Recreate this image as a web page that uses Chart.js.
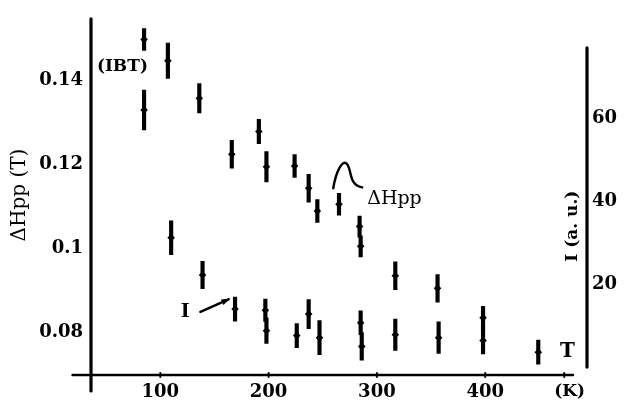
<!DOCTYPE html>
<html><head><meta charset="utf-8">
<script src="https://cdn.jsdelivr.net/npm/chart.js@4"></script>
<style>html,body{margin:0;padding:0;background:#fff}</style>
</head><body>
<canvas id="c" width="624" height="406"></canvas>
<script>
// ΔHpp series (left axis, T)
const hT   = [85, 107, 136, 166, 191, 198, 224, 237, 245, 265, 284, 285, 317, 356, 398];
const hVal = [0.1497, 0.1446, 0.1357, 0.1224, 0.1278, 0.1194, 0.1196, 0.1143, 0.1089, 0.1105, 0.1052, 0.1005, 0.0935, 0.0905, 0.0835];
const hErr = [0.0026, 0.0042, 0.0035, 0.0033, 0.0029, 0.0036, 0.0027, 0.0033, 0.0027, 0.0026, 0.0025, 0.0025, 0.0033, 0.0033, 0.0027];
// I series (right axis, a.u.)
const iT   = [85, 110, 139, 169, 197, 198, 226, 237, 247, 285, 286, 317, 357, 398, 449];
const iVal = [62.0, 31.2, 22.2, 14.0, 13.7, 8.8, 7.6, 12.8, 7.1, 10.7, 5.0, 7.8, 7.1, 6.4, 3.6];
const iErr = [4.8, 4.1, 3.3, 2.9, 2.7, 3.1, 2.9, 3.5, 4.1, 2.9, 3.3, 3.8, 3.8, 3.2, 2.9];
// ticks
const xTicks = [100, 200, 300, 400];
const xTickLabels = ['100', '200', '300', '400'];
const hTicks = [0.08, 0.1, 0.12, 0.14];
const hTickLabels = ['0.08', '0.1', '0.12', '0.14'];
const iTicks = [20, 40, 60];
const iTickLabels = ['20', '40', '60'];

const SERIF = '"DejaVu Serif", "Liberation Serif", serif';

function bars(T, V, E) { return T.map((t, i) => ({ x: t, y: [V[i] - E[i], V[i] + E[i]] })); }
function pts(T, V) { return T.map((t, i) => ({ x: t, y: V[i] })); }

const decor = {
  id: 'decor',
  afterDraw(chart) {
    const { ctx, chartArea: a, scales: { x, y, y1 } } = chart;
    const X = v => x.getPixelForValue(v), Y = v => y.getPixelForValue(v);
    const line = (x1, y1_, x2, y2) => { ctx.beginPath(); ctx.moveTo(x1, y1_); ctx.lineTo(x2, y2); ctx.stroke(); };
    ctx.save();
    ctx.strokeStyle = '#000'; ctx.fillStyle = '#000'; ctx.lineCap = 'round';
    // axes
    ctx.lineWidth = 3.2; line(a.left, a.top, a.left, a.bottom + 16);
    ctx.lineWidth = 2.6; line(X(19), a.bottom, X(481), a.bottom);
    ctx.lineWidth = 3.2; line(a.right, y1.getPixelForValue(0), a.right, y1.getPixelForValue(77));
    // little tick bumps on x axis
    ctx.lineWidth = 2;
    xTicks.concat([473]).forEach(v => line(X(v), a.bottom - 2, X(v), a.bottom + 2));

    // axis titles
    ctx.textAlign = 'center'; ctx.textBaseline = 'middle';
    ctx.save(); ctx.translate(20, Y(0.1127)); ctx.rotate(-Math.PI / 2);
    ctx.font = '20px ' + SERIF; ctx.fillText('ΔHpp (T)', 0, 0); ctx.restore();
    ctx.save(); ctx.translate(a.right - 14, y1.getPixelForValue(34)); ctx.rotate(-Math.PI / 2);
    ctx.font = 'bold 17px ' + SERIF; ctx.fillText('I (a. u.)', 0, 0); ctx.restore();
    ctx.font = 'bold 17px ' + SERIF; ctx.fillText('(K)', X(478), a.bottom + 17);
    ctx.font = 'bold 20px ' + SERIF; ctx.fillText('T', X(476), Y(0.0753));

    // annotations
    ctx.font = 'bold 17px ' + SERIF; ctx.fillText('(IBT)', X(65), Y(0.1432));
    ctx.textAlign = 'left';
    ctx.font = '19px ' + SERIF; ctx.fillText('ΔHpp', X(291), Y(0.1117));
    ctx.textAlign = 'center';
    ctx.font = 'bold 19px ' + SERIF; ctx.fillText('I', X(123), Y(0.0849));
    // squiggle to ΔHpp label
    ctx.lineWidth = 2.4;
    ctx.beginPath();
    ctx.moveTo(X(259.7), Y(0.1143));
    ctx.bezierCurveTo(X(262), Y(0.1180), X(268), Y(0.1215), X(272.6), Y(0.1200));
    ctx.bezierCurveTo(X(277), Y(0.1185), X(274), Y(0.1150), X(286.5), Y(0.1145));
    ctx.stroke();
    // arrow for I
    const ax1 = X(137), ay1 = Y(0.0849), ax2 = X(163), ay2 = Y(0.0879);
    ctx.lineWidth = 2.4; line(ax1, ay1, ax2, ay2);
    const ang = Math.atan2(ay2 - ay1, ax2 - ax1);
    ctx.beginPath();
    ctx.moveTo(ax2 + 2 * Math.cos(ang), ay2 + 2 * Math.sin(ang));
    ctx.lineTo(ax2 - 7 * Math.cos(ang) + 3 * Math.sin(ang), ay2 - 7 * Math.sin(ang) - 3 * Math.cos(ang));
    ctx.lineTo(ax2 - 7 * Math.cos(ang) - 3 * Math.sin(ang), ay2 - 7 * Math.sin(ang) + 3 * Math.cos(ang));
    ctx.closePath(); ctx.fill();
    ctx.restore();
  }
};

const tickFont = { family: SERIF, size: 18, weight: 'bold' };

new Chart(document.getElementById('c'), {
  type: 'bar',
  data: {
    datasets: [
      { type: 'bar', label: 'ΔHpp', data: bars(hT, hVal, hErr), yAxisID: 'y', backgroundColor: '#000', barThickness: 3.5, grouped: false },
      { type: 'bar', label: 'I', data: bars(iT, iVal, iErr), yAxisID: 'y1', backgroundColor: '#000', barThickness: 3.5, grouped: false },
      { type: 'scatter', label: 'ΔHpp pts', data: pts(hT, hVal), yAxisID: 'y', pointStyle: 'rectRot', pointRadius: 3.8, backgroundColor: '#000', borderColor: '#000', borderWidth: 0 },
      { type: 'scatter', label: 'I pts', data: pts(iT, iVal), yAxisID: 'y1', pointStyle: 'rectRot', pointRadius: 3.8, backgroundColor: '#000', borderColor: '#000', borderWidth: 0 }
    ]
  },
  options: {
    responsive: false, animation: false,
    layout: { padding: { top: 12, left: 0, right: 0, bottom: 0 } },
    plugins: { legend: { display: false }, tooltip: { enabled: false } },
    scales: {
      x: {
        type: 'linear', min: 36, max: 494, offset: false,
        grid: { display: false, drawTicks: false }, border: { display: false },
        afterBuildTicks: s => { s.ticks = xTicks.map(v => ({ value: v })); },
        afterFit: s => { s.height = 31; },
        ticks: { callback: v => xTickLabels[xTicks.indexOf(v)], font: tickFont, color: '#000', padding: 7, maxRotation: 0, autoSkip: false }
      },
      y: {
        type: 'linear', position: 'left', min: 0.0699, max: 0.1546,
        grid: { display: false, drawTicks: false }, border: { display: false },
        afterBuildTicks: s => { s.ticks = hTicks.map(v => ({ value: v })); },
        afterFit: s => { s.width = 91; },
        ticks: { callback: v => hTickLabels[hTicks.indexOf(v)], font: tickFont, color: '#000', padding: 8, autoSkip: false }
      },
      y1: {
        type: 'linear', position: 'right', min: -1.9, max: 84,
        grid: { display: false, drawTicks: false }, border: { display: false },
        afterBuildTicks: s => { s.ticks = iTicks.map(v => ({ value: v })); },
        afterFit: s => { s.width = 37; },
        ticks: { callback: v => iTickLabels[iTicks.indexOf(v)], font: tickFont, color: '#000', padding: 5, autoSkip: false }
      }
    }
  },
  plugins: [decor]
});
</script>
</body></html>
